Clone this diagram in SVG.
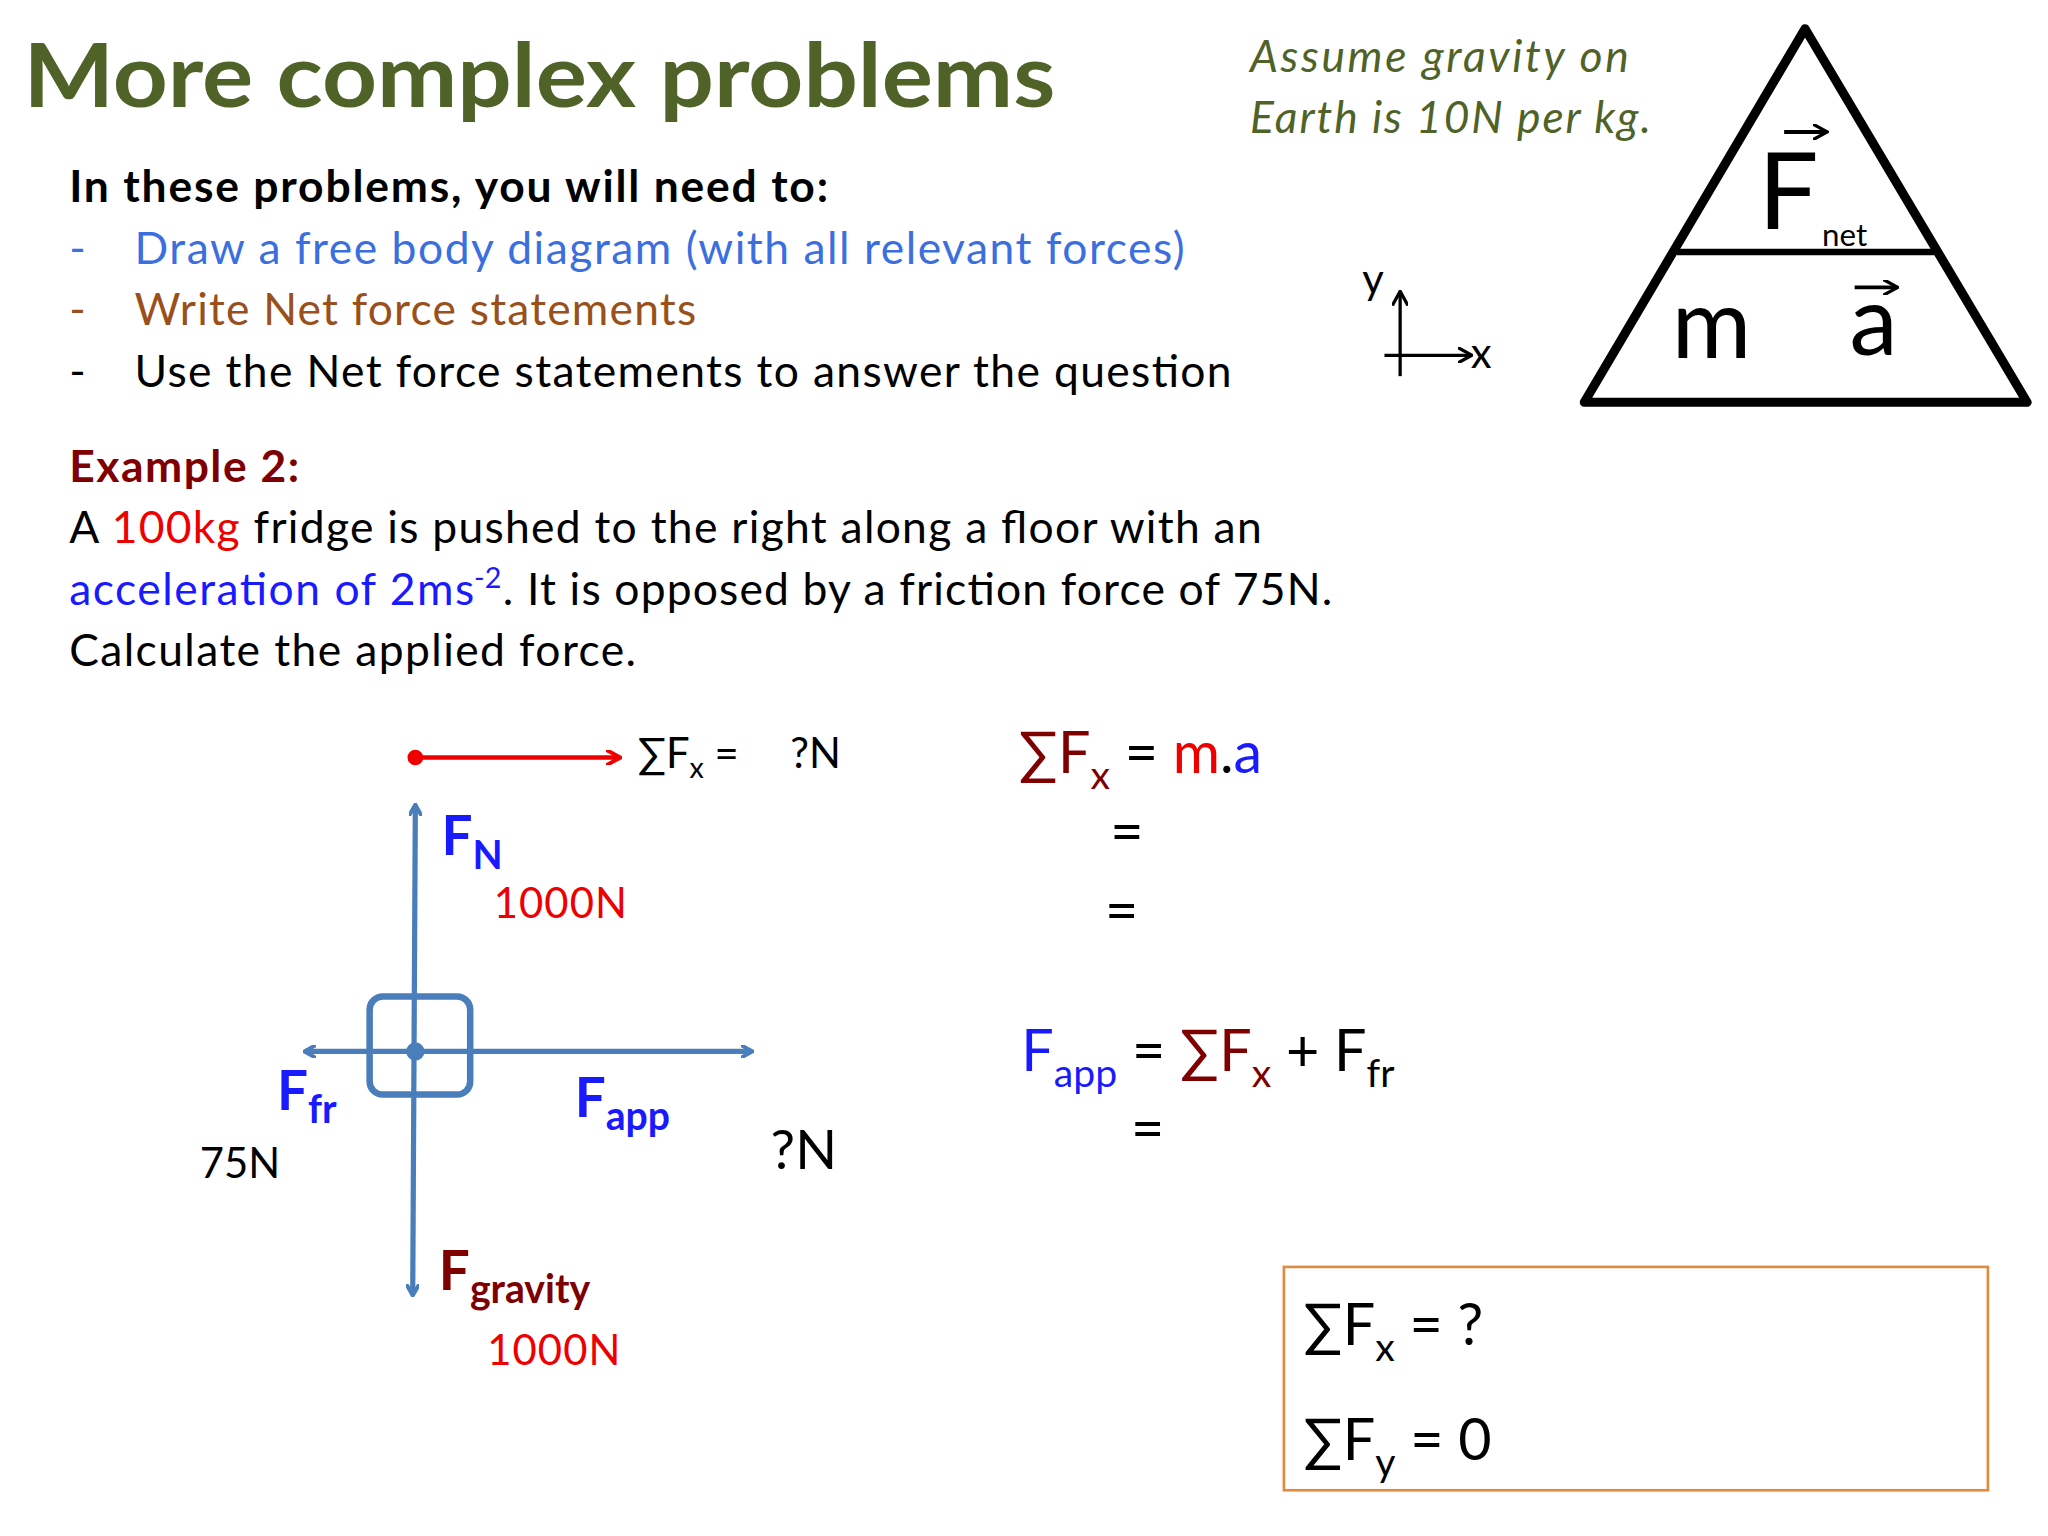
<svg xmlns="http://www.w3.org/2000/svg" width="2048" height="1536" viewBox="0 0 2048 1536">
<defs>
<style>
text{font-family:Lato,"Open Sans","Liberation Sans",sans-serif;}
.b{font-size:34px;}
.bl{stroke:#4a7ebb;stroke-width:4;fill:none;}
.eq{font-size:44px;}
</style>
<marker id="ah" markerWidth="10" markerHeight="10" refX="8" refY="5" orient="auto-start-reverse" markerUnits="userSpaceOnUse"><path d="M0,0 L9,5 L0,10" fill="none" stroke="#4a7ebb" stroke-width="3"/></marker>
<marker id="rh" markerWidth="12" markerHeight="12" refX="10" refY="6" orient="auto" markerUnits="userSpaceOnUse"><path d="M0,0 L11,6 L0,12" fill="none" stroke="#e00" stroke-width="3"/></marker>
<marker id="kh" markerWidth="12" markerHeight="12" refX="10" refY="6" orient="auto" markerUnits="userSpaceOnUse"><path d="M0,0 L11,6 L0,12" fill="none" stroke="#000" stroke-width="2.5"/></marker>
</defs>
<rect width="2048" height="1536" fill="#fff"/>
<g transform="scale(1.3061)">
<g id="texts">
<text x="18" y="82" font-size="68" font-weight="bold" fill="#4f6228" textLength="790" lengthAdjust="spacingAndGlyphs">More complex problems</text>
<text x="957" y="55" font-size="34" font-style="italic" fill="#4f6228" textLength="290">Assume gravity on</text>
<text x="957" y="102" font-size="34" font-style="italic" fill="#4f6228" textLength="307">Earth is 10N per kg.</text>
<text x="53" y="155" class="b" font-weight="bold" textLength="581">In these problems, you will need to:</text>
<text x="53" y="202" class="b" fill="#3b6fe0">-</text><text x="103" y="202" class="b" fill="#3b6fe0" textLength="804">Draw a free body diagram (with all relevant forces)</text>
<text x="53" y="249" class="b" fill="#99501a">-</text><text x="103" y="249" class="b" fill="#99501a" textLength="430">Write Net force statements</text>
<text x="53" y="296" class="b">-</text><text x="103" y="296" class="b" textLength="840">Use the Net force statements to answer the question</text>
<text x="53" y="369" class="b" font-weight="bold" fill="#7f0000" textLength="176">Example 2:</text>
<text x="53" y="416" class="b" textLength="913">A <tspan fill="#e00">100kg</tspan> fridge is pushed to the right along a floor with an</text>
<text x="53" y="463" class="b" fill="#1a1aff" textLength="310">acceleration of 2ms</text>
<text x="363" y="450" font-size="22" fill="#1a1aff">-2</text>
<text x="385" y="463" class="b" textLength="635">. It is opposed by a friction force of 75N.</text>
<text x="53" y="510" class="b" textLength="434">Calculate the applied force.</text>
</g>
<g id="connectors">
<circle cx="318" cy="580" r="6" fill="#e00"/>
<line x1="318" y1="580" x2="474" y2="580" stroke="#e00" stroke-width="3.5" marker-end="url(#rh)"/>
<line class="bl" x1="318" y1="617" x2="316" y2="991" marker-start="url(#ah)" marker-end="url(#ah)"/>
<line class="bl" x1="234" y1="805" x2="575" y2="805" marker-start="url(#ah)" marker-end="url(#ah)"/>
<line x1="1072" y1="288" x2="1072" y2="224" stroke="#000" stroke-width="2.5" marker-end="url(#kh)"/>
<line x1="1060" y1="272" x2="1126" y2="272" stroke="#000" stroke-width="2.5" marker-end="url(#kh)"/>
</g>
<g id="box">
<rect x="283" y="763" width="77" height="75" rx="10" fill="none" stroke="#4a7ebb" stroke-width="5"/>
<circle cx="318" cy="805" r="7" fill="#4a7ebb"/>
</g>
<g id="labels">
<text x="488" y="588" font-size="32">∑F<tspan font-size="22" dy="8">x</tspan><tspan dy="-8"> =</tspan></text>
<text x="605" y="588" font-size="32">?N</text>
<text x="338" y="655" font-size="42" font-weight="bold" fill="#1a1aff">F<tspan font-size="30" dy="10">N</tspan></text>
<text x="378" y="703" font-size="32" fill="#e00" textLength="102">1000N</text>
<text x="212" y="850" font-size="42" font-weight="bold" fill="#1a1aff">F<tspan font-size="30" dy="10">fr</tspan></text>
<text x="153" y="902" font-size="32">75N</text>
<text x="440" y="855" font-size="42" font-weight="bold" fill="#1a1aff">F<tspan font-size="30" dy="10">app</tspan></text>
<text x="590" y="895" font-size="42">?N</text>
<text x="336" y="988" font-size="42" font-weight="bold" fill="#7f0000">F<tspan font-size="30" dy="10">gravity</tspan></text>
<text x="373" y="1045" font-size="32" fill="#e00" textLength="102">1000N</text>
</g>
<g id="equations">
<text x="780" y="592" class="eq"><tspan fill="#7f0000">∑F<tspan font-size="30" dy="12">x</tspan></tspan><tspan dy="-12"> = </tspan><tspan fill="#e00">m</tspan>.<tspan fill="#1a1aff">a</tspan></text>
<text x="850" y="652" class="eq">=</text>
<text x="846" y="713" class="eq">=</text>
<text x="782" y="820" class="eq"><tspan fill="#1a1aff">F<tspan font-size="30" dy="12">app</tspan></tspan><tspan dy="-12"> = </tspan><tspan fill="#7f0000">∑F<tspan font-size="30" dy="12">x</tspan></tspan><tspan dy="-12"> + F</tspan><tspan font-size="30" dy="12">fr</tspan></text>
<text x="866" y="880" class="eq">=</text>
</g>
<g id="answer">
<rect x="983" y="970" width="539" height="171" fill="none" stroke="#e08a40" stroke-width="2"/>
<text x="998" y="1030" class="eq">∑F<tspan font-size="30" dy="12">x</tspan><tspan dy="-12"> = ?</tspan></text>
<text x="998" y="1118" class="eq">∑F<tspan font-size="30" dy="12">y</tspan><tspan dy="-12"> = 0</tspan></text>
</g>
<g id="axes-labels">
<text x="1043" y="225" font-size="32">y</text>
<text x="1126" y="282" font-size="32">x</text>
</g>
<g id="triangle">
<path d="M1382,22 L1552,308 L1213,308 Z" fill="none" stroke="#000" stroke-width="7" stroke-linejoin="round"/>
<line x1="1284" y1="193" x2="1481" y2="193" stroke="#000" stroke-width="5"/>
<text x="1346" y="175" font-size="82">F</text>
<line x1="1366" y1="101" x2="1398" y2="101" stroke="#000" stroke-width="3" marker-end="url(#kh)"/>
<text x="1395" y="188" font-size="24">net</text>
<text x="1280" y="274" font-size="74">m</text>
<text x="1416" y="272" font-size="74">a</text>
<line x1="1420" y1="220" x2="1452" y2="220" stroke="#000" stroke-width="3" marker-end="url(#kh)"/>
</g>
</g>
</svg>
